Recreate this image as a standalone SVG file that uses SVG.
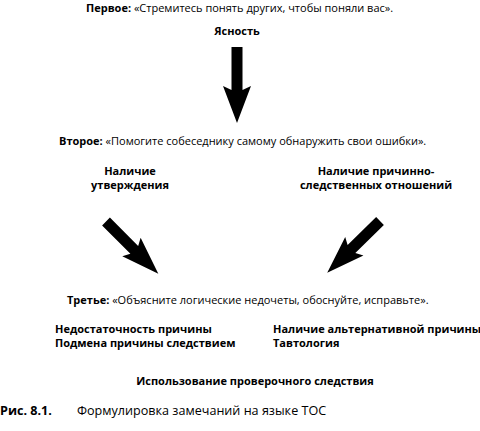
<svg xmlns="http://www.w3.org/2000/svg" width="480" height="431" viewBox="0 0 480 431">
<style>
text{font-family:"Open Sans","Noto Sans","DejaVu Sans",sans-serif;font-size:11px;fill:#000}
.b{font-weight:bold}
.c{text-anchor:middle}
.cap{font-size:12.6px}
.arrow{fill:#000}
</style>
<defs>
<polygon id="arrV" points="0,-5.5 43,-5.5 39,-14 76,0 39,14 43,5.5 0,5.5"/>
<polygon id="arrD" points="0,-5.5 40,-5.5 36,-13 74,0 36,13 40,5.5 0,5.5"/>
</defs>
<rect width="480" height="431" fill="#fff"/>
<g id="first"><text x="86" y="11.5"><tspan class="b">Первое:</tspan> «Стремитесь понять других, чтобы поняли вас».</text></g>
<g id="clarity"><text class="b c" x="237" y="35">Ясность</text></g>
<g id="second"><text x="59" y="145"><tspan class="b">Второе:</tspan> «Помогите собеседнику самому обнаружить свои ошибки».</text></g>
<g id="statement"><text class="b c" x="130" y="175">Наличие</text><text class="b c" x="130" y="188.5">утверждения</text></g>
<g id="causal"><text class="b c" x="376" y="175">Наличие причинно-</text><text class="b c" x="376" y="188.5">следственных отношений</text></g>
<g id="third"><text x="67" y="304"><tspan class="b">Третье:</tspan> «Объясните логические недочеты, обоснуйте, исправьте».</text></g>
<g id="left-list"><text class="b" x="55" y="332.5">Недостаточность причины</text><text class="b" x="55" y="346.5">Подмена причины следствием</text></g>
<g id="right-list"><text class="b" x="273" y="332.5">Наличие альтернативной причины</text><text class="b" x="273" y="346.5">Тавтология</text></g>
<g id="verify"><text class="b c" x="255" y="385">Использование проверочного следствия</text></g>
<g id="caption"><text class="cap" x="0" y="415"><tspan class="b">Рис. 8.1.</tspan><tspan x="77">Формулировка замечаний на языке ТОС</tspan></text></g>
<g id="connectors" class="arrow">
<use href="#arrV" transform="translate(237,47) rotate(90)"/>
<use href="#arrD" transform="translate(106,221.5) rotate(45)"/>
<use href="#arrD" transform="translate(380,221) rotate(135.5)"/>
</g>
</svg>
